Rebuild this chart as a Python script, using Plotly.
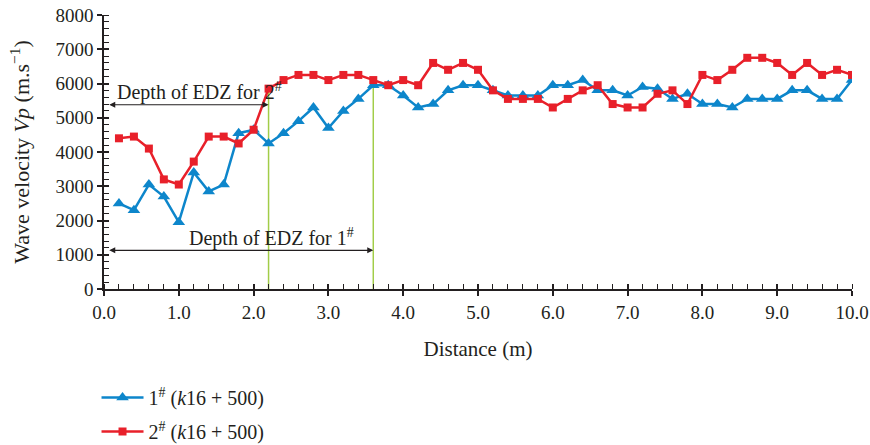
import plotly.graph_objects as go

distance = [round(0.2 * i, 1) for i in range(1, 51)]

vp_1 = [2500, 2300, 3050, 2700, 1950, 3400, 2850, 3050, 4550, 4650,
        4250, 4550, 4900, 5300, 4700, 5200, 5550, 5950, 5950, 5650,
        5300, 5400, 5800, 5950, 5950, 5800, 5650, 5650, 5650, 5950,
        5950, 6100, 5800, 5800, 5650, 5900, 5850, 5550, 5700, 5400,
        5400, 5300, 5550, 5550, 5550, 5800, 5800, 5550, 5550, 6100]

vp_2 = [4400, 4450, 4100, 3200, 3050, 3720, 4450, 4450, 4250, 4650,
        5850, 6100, 6250, 6250, 6100, 6250, 6250, 6100, 5950, 6100,
        5950, 6600, 6400, 6600, 6400, 5800, 5550, 5550, 5550, 5300,
        5550, 5800, 5950, 5400, 5300, 5300, 5700, 5800, 5400, 6250,
        6100, 6400, 6750, 6750, 6600, 6250, 6600, 6250, 6400, 6250]

names = ["1<sup>#</sup> (<i>k</i>16 + 500)", "2<sup>#</sup> (<i>k</i>16 + 500)"]
edz_depth = [3.6, 2.2]          # depth of EDZ for 1#, 2#
edz_arrow_y = [1130, 5380]
edz_text_y = [1500, 5760]
edz_labels = ["Depth of EDZ for 1<sup>#</sup>", "Depth of EDZ for 2<sup>#</sup>"]

blue = "#0d86cb"
red = "#e8202a"
green = "#a2cd48"
ink = "#231f20"
FONT = "Liberation Serif"

fig = go.Figure()
fig.add_trace(go.Scatter(x=distance, y=vp_1, mode="lines+markers", name=names[0],
                         line=dict(color=blue, width=2.5),
                         marker=dict(symbol="triangle-up", size=11, color=blue),
                         legendgroup="a"))
fig.add_trace(go.Scatter(x=distance, y=vp_2, mode="lines+markers", name=names[1],
                         line=dict(color=red, width=2.5),
                         marker=dict(symbol="square", size=8, color=red),
                         legendgroup="b"))
# invisible helper trace for crossing major ticks
fig.add_trace(go.Scatter(x=[0, 10], y=[0, 8000], xaxis="x2", yaxis="y2", mode="markers",
                         marker=dict(opacity=0), showlegend=False, hoverinfo="skip"))

series = [vp_1, vp_2]
for k in range(2):
    d = edz_depth[k]
    top = series[k][distance.index(d)]
    fig.add_shape(type="line", x0=d, x1=d, y0=0, y1=top, xref="x", yref="y",
                  line=dict(color=green, width=1.5), layer="below")
    fig.add_annotation(x=d, y=edz_arrow_y[k], ax=0.05, ay=edz_arrow_y[k],
                       xref="x", yref="y", axref="x", ayref="y", text="",
                       showarrow=True, arrowhead=2, startarrowhead=2,
                       arrowside="end+start", arrowsize=1, arrowwidth=1.2,
                       arrowcolor=ink)
fig.add_annotation(x=2.24, y=edz_text_y[0], xref="x", yref="y", text=edz_labels[0],
                   showarrow=False, font=dict(family=FONT, size=20, color=ink))
fig.add_annotation(x=1.28, y=edz_text_y[1], xref="x", yref="y", text=edz_labels[1],
                   showarrow=False, font=dict(family=FONT, size=20, color=ink))

axis_common = dict(showgrid=False, zeroline=False, showline=True, linecolor=ink,
                   linewidth=1.5, ticks="outside", ticklen=5, tickwidth=1.5,
                   tickcolor=ink, tickfont=dict(family=FONT, size=19, color=ink))

fig.update_layout(
    width=870, height=445,
    margin=dict(l=104, r=18, t=15, b=156, autoexpand=False),
    paper_bgcolor="white", plot_bgcolor="white",
    font=dict(family=FONT, size=18, color=ink),
    xaxis=dict(range=[0, 10], dtick=1, tickformat=".1f",
               minor=dict(dtick=0.2, ticks="inside", ticklen=5, tickwidth=1.2, tickcolor=ink),
               title=dict(text="Distance (m)", font=dict(family=FONT, size=21), standoff=20),
               **axis_common),
    yaxis=dict(range=[0, 8000], dtick=1000,
               minor=dict(dtick=200, ticks="inside", ticklen=5, tickwidth=1.2, tickcolor=ink),
               title=dict(text="Wave velocity <i>Vp</i> (m.s<sup>\u22121</sup>)",
                          font=dict(family=FONT, size=22), standoff=20),
               **axis_common),
    xaxis2=dict(range=[0, 10], dtick=1, overlaying="x", anchor="y2", side="bottom",
                showticklabels=False, ticks="inside", ticklen=5, tickwidth=1.5,
                tickcolor=ink, showgrid=False, zeroline=False, showline=False),
    yaxis2=dict(range=[0, 8000], dtick=1000, overlaying="y", anchor="x2", side="left",
                showticklabels=False, ticks="inside", ticklen=5, tickwidth=1.5,
                tickcolor=ink, showgrid=False, zeroline=False, showline=False),
    showlegend=True,
    legend=dict(x=-0.01, y=-0.325, xanchor="left", yanchor="top",
                traceorder="grouped", tracegroupgap=5, itemwidth=42,
                font=dict(family=FONT, size=20, color=ink), bgcolor="rgba(0,0,0,0)"),
)

fig.write_html("out.html")
